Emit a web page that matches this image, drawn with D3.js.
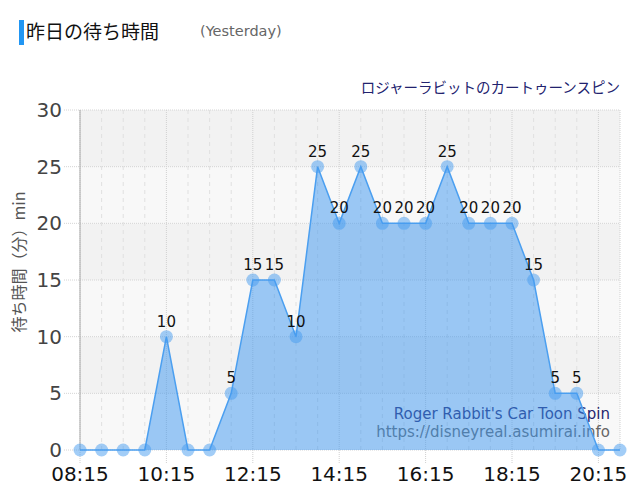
<!DOCTYPE html>
<html>
<head>
<meta charset="utf-8">
<script src="https://d3js.org/d3.v7.min.js"></script>
<style>
  body { margin: 0; background: #fff; }
  svg { display: block; font-family: "DejaVu Sans", sans-serif; }
  .jp { font-family: "Noto Sans CJK JP", "DejaVu Sans", sans-serif; }
</style>
</head>
<body>
<svg id="chart" width="640" height="500"></svg>
<script>
// half-hour slots from yesterday
const times = ["08:15", "08:45", "09:15", "09:45", "10:15", "10:45", "11:15", "11:45",
  "12:15", "12:45", "13:15", "13:45", "14:15", "14:45", "15:15", "15:45", "16:15",
  "16:45", "17:15", "17:45", "18:15", "18:45", "19:15", "19:45", "20:15", "20:45"];
const waits = [0, 0, 0, 0, 10, 0, 0, 5, 15, 15, 10, 25, 20, 25, 20, 20, 20,
  25, 20, 20, 20, 15, 5, 5, 0, 0];
const xTickLabels = ["08:15", "10:15", "12:15", "14:15", "16:15", "18:15", "20:15"];
const yTicks = [0, 5, 10, 15, 20, 25, 30];

const svg = d3.select('#chart');
const plot = { left: 80, right: 620, top: 110, bottom: 450 };

const x = d3.scalePoint().domain(times).range([plot.left, plot.right]);
const y = d3.scaleLinear().domain([0, 30]).range([plot.bottom, plot.top]);

// header
svg.append('rect').attr('x', 19).attr('y', 20).attr('width', 5).attr('height', 25).attr('fill', '#2196f3');
svg.append('text').attr('class', 'jp').attr('x', 26).attr('y', 39)
  .attr('font-size', 19).attr('fill', '#111').text('昨日の待ち時間');
svg.append('text').attr('x', 200).attr('y', 36)
  .attr('font-size', 14.5).attr('fill', '#666').text('(Yesterday)');
svg.append('text').attr('class', 'jp').attr('x', 620).attr('y', 93)
  .attr('text-anchor', 'end').attr('font-size', 14.5).attr('fill', '#22226e')
  .text('ロジャーラビットのカートゥーンスピン');

// background bands
const bands = svg.append('g');
yTicks.slice(0, -1).forEach((v, i) => {
  bands.append('rect')
    .attr('x', plot.left).attr('width', plot.right - plot.left)
    .attr('y', y(v + 5)).attr('height', y(v) - y(v + 5))
    .attr('fill', i % 2 === 0 ? '#f8f8f8' : '#f2f2f2');
});

// vertical grid
const grid = svg.append('g');
times.forEach((t, i) => {
  const last = i === times.length - 1;
  const major = xTickLabels.includes(t) || last;
  grid.append('line')
    .attr('x1', x(t)).attr('x2', x(t))
    .attr('y1', plot.top).attr('y2', major && !last ? plot.bottom + 14 : plot.bottom)
    .attr('stroke', major ? '#d0d0d0' : '#e0e0e0')
    .attr('stroke-dasharray', major ? '1,1' : '4,4');
});

// horizontal grid
yTicks.forEach(v => {
  grid.append('line')
    .attr('x1', plot.left - 16).attr('x2', plot.right)
    .attr('y1', y(v)).attr('y2', y(v))
    .attr('stroke', '#d4d4d4').attr('stroke-dasharray', '1,1');
});
svg.append('line').attr('x1', plot.left).attr('x2', plot.left)
  .attr('y1', plot.top).attr('y2', plot.bottom).attr('stroke', '#aaa');

// watermark
svg.append('text').attr('x', 610).attr('y', 419).attr('text-anchor', 'end')
  .attr('font-size', 15).attr('fill', '#25256e').text("Roger Rabbit's Car Toon Spin");
svg.append('text').attr('x', 610).attr('y', 437).attr('text-anchor', 'end')
  .attr('font-size', 15).attr('fill', '#666').text('https://disneyreal.asumirai.info');

// area + line
const pts = times.map((t, i) => [t, waits[i]]);
svg.append('path').datum(pts)
  .attr('d', d3.area().x(d => x(d[0])).y0(y(0)).y1(d => y(d[1])))
  .attr('fill', 'rgba(60,150,240,0.5)');
svg.append('path').datum(pts)
  .attr('d', d3.line().x(d => x(d[0])).y(d => y(d[1])))
  .attr('fill', 'none').attr('stroke', '#4b9ff0').attr('stroke-width', 1.5);

svg.append('g').selectAll('circle').data(pts).join('circle')
  .attr('cx', d => x(d[0])).attr('cy', d => y(d[1])).attr('r', 6.5)
  .attr('fill', 'rgba(70,155,240,0.5)');

// value labels
svg.append('g').selectAll('text').data(pts.filter(d => d[1] > 0)).join('text')
  .attr('x', d => x(d[0])).attr('y', d => y(d[1]) - 10)
  .attr('text-anchor', 'middle').attr('font-size', 15).attr('fill', '#111')
  .text(d => d[1]);

// axis labels
svg.append('g').selectAll('text').data(yTicks).join('text')
  .attr('x', 62).attr('y', d => y(d) + 7).attr('text-anchor', 'end')
  .attr('font-size', 20).attr('fill', '#444').text(d => d);
svg.append('g').selectAll('text').data(xTickLabels).join('text')
  .attr('x', d => x(d)).attr('y', 481).attr('text-anchor', 'middle')
  .attr('font-size', 20).attr('fill', '#111').text(d => d);

svg.append('text').attr('class', 'jp')
  .attr('transform', 'translate(25,262) rotate(-90)')
  .attr('text-anchor', 'middle').attr('font-size', 16).attr('fill', '#555')
  .text('待ち時間（分）min');
</script>
</body>
</html>
